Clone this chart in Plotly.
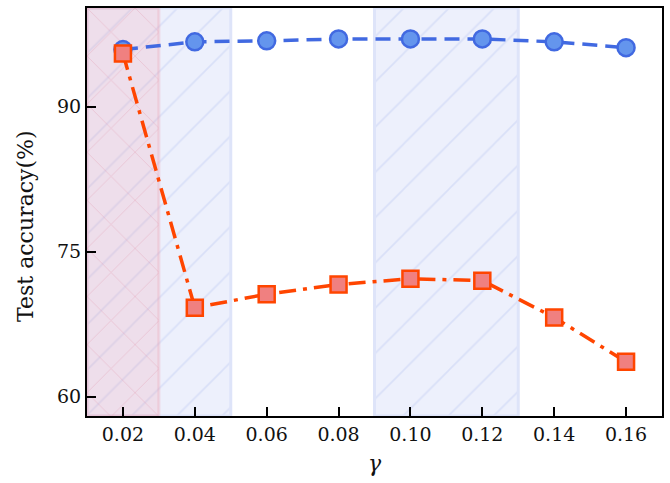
import plotly.graph_objects as go

gamma = [0.02, 0.04, 0.06, 0.08, 0.10, 0.12, 0.14, 0.16]
acc_blue = [95.9, 96.7, 96.8, 97.0, 97.0, 97.0, 96.7, 96.1]
acc_orange = [95.5, 69.2, 70.6, 71.6, 72.2, 72.0, 68.2, 63.6]
x_ticks = [0.02, 0.04, 0.06, 0.08, 0.10, 0.12, 0.14, 0.16]
x_tick_labels = ["0.02", "0.04", "0.06", "0.08", "0.10", "0.12", "0.14", "0.16"]
y_ticks = [60, 75, 90]
x_range = [0.01, 0.17]
y_range = [58.0, 100.2]
blue_regions = [(0.01, 0.05), (0.09, 0.13)]
red_regions = [(0.01, 0.03)]

FONT = "DejaVu Serif"
fig = go.Figure()

def region(x0, x1, fill, fg, edge, shape, size):
    fig.add_trace(go.Scatter(
        x=[x0, x1, x1, x0, x0], y=[y_range[0], y_range[0], y_range[1], y_range[1], y_range[0]],
        mode="lines", fill="toself", fillcolor=fill,
        fillpattern=dict(shape=shape, fgcolor=fg, bgcolor=fill, size=size, solidity=0.05, fillmode="replace"),
        line=dict(color=edge, width=3), hoverinfo="skip", showlegend=False))

for x0, x1 in blue_regions:
    region(x0, x1, "rgb(237,240,252)", "rgb(217,224,248)", "rgb(222,228,249)", "/", 32)
for x0, x1 in red_regions:
    region(x0, x1, "rgba(240,150,165,0.20)", "rgba(225,120,150,0.28)", "rgba(235,160,175,0.30)", "x", 34)

fig.add_trace(go.Scatter(
    x=gamma, y=acc_blue, mode="lines+markers",
    line=dict(color="#4169E1", width=3.5, dash="15px,8px"),
    marker=dict(symbol="circle", size=17, color="#6495ED", line=dict(color="#4169E1", width=2.5)),
    showlegend=False))
fig.add_trace(go.Scatter(
    x=gamma, y=acc_orange, mode="lines+markers",
    line=dict(color="#FF4500", width=3.5, dash="17px,7px,4px,7px"),
    marker=dict(symbol="square", size=16, color="#F08080", line=dict(color="#FF4500", width=2.5)),
    showlegend=False))

axis_common = dict(showline=True, linecolor="black", linewidth=2, mirror=True,
                   ticks="inside", ticklen=9, tickwidth=2, tickcolor="black",
                   showgrid=False, zeroline=False, automargin=False,
                   tickfont=dict(family=FONT, size=19, color="#111"))
fig.update_xaxes(range=x_range, tickvals=x_ticks, ticktext=x_tick_labels,
                 title=dict(text="<i>γ</i>", font=dict(family=FONT, size=22, color="#111"), standoff=12),
                 **axis_common)
fig.update_yaxes(range=y_range, tickvals=y_ticks, **axis_common)
fig.add_annotation(text="Test accuracy(%)", textangle=-90, xref="paper", yref="paper",
                   x=-0.106, y=0.466, xanchor="center", yanchor="middle", showarrow=False,
                   font=dict(family=FONT, size=22, color="#111"))
fig.update_layout(width=670, height=483, margin=dict(l=87, r=8, t=8, b=67, autoexpand=False),
                  plot_bgcolor="white", paper_bgcolor="white")
fig.write_html("out.html", config={"displayModeBar": False},
               post_script="document.body.style.margin='0px';")
